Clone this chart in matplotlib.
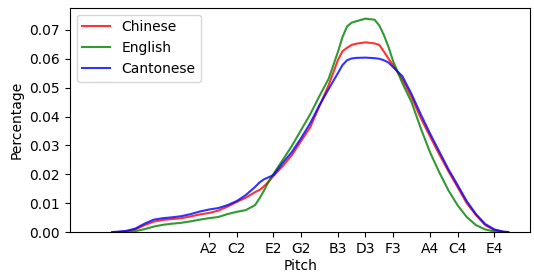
import numpy as np
import matplotlib
matplotlib.use("Agg")
import matplotlib.pyplot as plt

# pitch axis (midi note numbers) and tick labels as shown on the chart
pitch = [34.5, 35, 36, 37, 38, 39, 40, 41, 42, 43, 44, 45, 46, 47, 48, 49, 50, 50.5,
         51, 51.5, 52, 53, 54, 55, 56, 57, 58, 59, 59.5, 60, 60.5, 61, 62, 63, 63.5,
         64, 64.5, 65, 66, 67, 68, 69, 70, 71, 72, 73, 74, 75, 76, 77, 77.5]
tick_pos = [45, 48, 52, 55, 59, 62, 65, 69, 72, 76]
tick_labels = ['A2', 'C2', 'E2', 'G2', 'B3', 'D3', 'F3', 'A4', 'C4', 'E4']

chinese = [0, 0, 0.0002, 0.0009, 0.0024, 0.0036, 0.0042, 0.0045, 0.0048, 0.0054,
           0.0061, 0.0066, 0.0074, 0.0088, 0.0104, 0.0119, 0.0138, 0.0146,
           0.0159, 0.0175, 0.0194, 0.0228, 0.0266, 0.0315, 0.0363, 0.0436, 0.0509,
           0.0595, 0.0626, 0.0638, 0.0648, 0.0652, 0.0657, 0.0653, 0.0648,
           0.0625, 0.0600, 0.0578, 0.0529, 0.0467, 0.0395, 0.0332, 0.0270,
           0.0211, 0.0156, 0.0100, 0.0059, 0.0024, 0.0007, 0.0001, 0]
english = [0, 0, 0, 0.0003, 0.0010, 0.0019, 0.0025, 0.0029, 0.0032, 0.0037,
           0.0043, 0.0048, 0.0052, 0.0062, 0.0070, 0.0076, 0.0093, 0.0117,
           0.0145, 0.0176, 0.0201, 0.0249, 0.0298, 0.0353, 0.0408, 0.0471, 0.0531,
           0.0623, 0.0675, 0.0712, 0.0725, 0.0730, 0.0739, 0.0735, 0.0715,
           0.0682, 0.0641, 0.0592, 0.0516, 0.0450, 0.0360, 0.0277, 0.0208,
           0.0145, 0.0093, 0.0052, 0.0024, 0.0009, 0.0002, 0, 0]
cantonese = [0, 0.0001, 0.0004, 0.0012, 0.0029, 0.0043, 0.0048, 0.0051, 0.0055, 0.0062,
             0.0071, 0.0078, 0.0083, 0.0093, 0.0107, 0.0128, 0.0156, 0.0172,
             0.0183, 0.0190, 0.0197, 0.0239, 0.0277, 0.0325, 0.0377, 0.0439, 0.0495,
             0.0550, 0.0578, 0.0595, 0.0601, 0.0603, 0.0604, 0.0602, 0.0600,
             0.0595, 0.0587, 0.0571, 0.0540, 0.0478, 0.0408, 0.0342, 0.0280,
             0.0218, 0.0163, 0.0107, 0.0062, 0.0028, 0.0009, 0.0001, 0]

fig = plt.figure(figsize=(5.34, 2.73), dpi=100)
ax = fig.add_axes([0.131, 0.150, 0.862, 0.822])

ax.plot(pitch, chinese, color='r', alpha=0.8, lw=1.5, label='Chinese')
ax.plot(pitch, english, color='g', alpha=0.8, lw=1.5, label='English')
ax.plot(pitch, cantonese, color='b', alpha=0.8, lw=1.5, label='Cantonese')

ax.set_xlim(29.9, 79.9)
ax.set_ylim(0, 0.0777)
ax.set_xticks(tick_pos)
ax.set_xticklabels(tick_labels)
ax.set_yticks([0, 0.01, 0.02, 0.03, 0.04, 0.05, 0.06, 0.07])
ax.set_xlabel("Pitch", labelpad=2)
ax.set_ylabel("Percentage")
ax.legend(loc='upper left')

fig.savefig('out.png', dpi=100)
